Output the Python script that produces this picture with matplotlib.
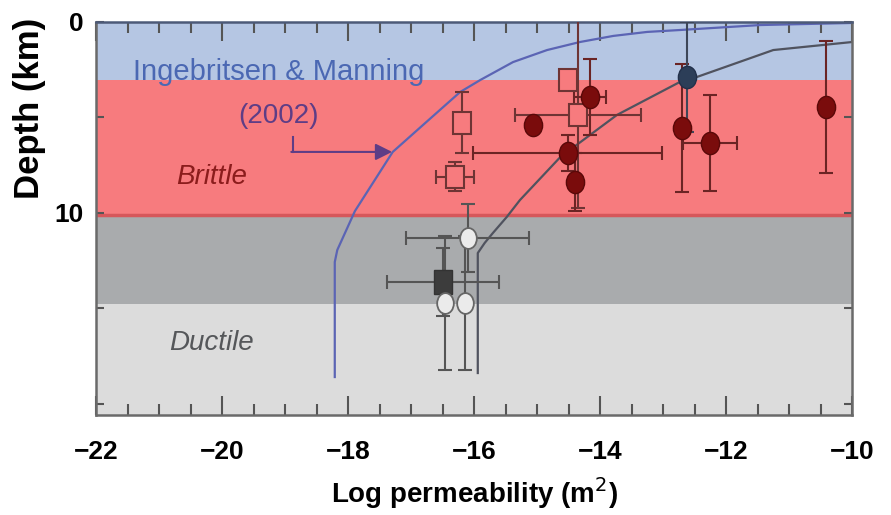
import matplotlib
matplotlib.use("Agg")
import matplotlib.pyplot as plt
from matplotlib.markers import MarkerStyle
from matplotlib.transforms import Affine2D

plt.rcParams["font.family"] = ["Liberation Sans", "DejaVu Sans"]

# depth bands (km)
band_edges = [0, 3.04, 10.1, 14.8, 20.6]
band_colors = ["#b5c6e3", "#f77b7e", "#a9abad", "#dcdcdc"]

# Ingebritsen & Manning (2002) curve: log k vs depth
im_k = [-18.21, -18.21, -18.17, -17.89, -17.29, -16.81, -16.22, -15.90, -15.38,
        -14.84, -14.32, -13.79, -13.25, -12.73, -11.46, -10.00]
im_z = [18.61, 12.58, 11.95, 9.91, 6.81, 5.40, 3.67, 3.04, 2.10,
        1.47, 1.05, 0.73, 0.52, 0.42, 0.16, 0.05]

# second curve
c2_k = [-15.94, -15.94, -15.83, -15.70, -15.48, -15.27, -14.63, -13.73,
        -12.73, -12.46, -11.25, -10.00]
c2_z = [18.40, 12.11, 11.58, 11.06, 10.22, 9.33, 7.08, 4.87,
        3.14, 2.88, 1.47, 1.05]

# filled circles (brittle crust)
brittle_k = [-15.06, -14.16, -14.51, -14.40, -12.70, -12.25, -10.41]
brittle_z = [5.40, 3.93, 6.87, 8.39, 5.56, 6.34, 4.45]
brittle_kerr = [0, 0.26, 1.5, 0, 0, 0.43, 0]
brittle_zerr = [0, 2.0, 0.95, 1.5, 3.35, 2.5, 3.46]

# dark blue circle
navy_k = [-12.62]
navy_z = [2.88]
navy_zerr = [2.88]

# open squares
sq_k = [-16.19, -16.30, -14.35, -14.51]
sq_z = [5.29, 8.12, 4.87, 3.04]
sq_kerr = [0, 0.30, 1.0, 0]
sq_zerr = [1.6, 0.76, 4.9, 0]

# dark square (ductile)
dsq_k = [-16.49]
dsq_z = [13.63]
dsq_kerr = [0.89]
dsq_zerr = [1.8]

# white circles (ductile)
wc_k = [-16.10, -16.46, -16.14]
wc_z = [11.32, 14.73, 14.73]
wc_kerr = [0.98, 0, 0]
wc_zerr = [1.8, 3.5, 3.5]


def band_color(z):
    for i in range(len(band_colors)):
        if band_edges[i] <= z < band_edges[i+1]:
            return band_colors[i]
    return band_colors[-1]


fig = plt.figure(figsize=(8.91, 5.15), dpi=100)
ax = fig.add_axes([96/891, 1-415/515, (852-96)/891, (415-22)/515])

for i in range(len(band_colors)):
    ax.axhspan(band_edges[i], band_edges[i+1], color=band_colors[i], lw=0, zorder=0)
ax.axhline(band_edges[2], color="#d6575b", lw=2.5, zorder=0.5)

ax.plot(im_k, im_z, color="#5b64b4", lw=1.6, zorder=2)
ax.plot(c2_k, c2_z, color="#50535f", lw=1.6, zorder=2)

ell = MarkerStyle("o", transform=Affine2D().scale(0.82, 1.0))
rect = MarkerStyle("s", transform=Affine2D().scale(0.8, 1.0))

ax.errorbar(sq_k, sq_z, xerr=sq_kerr, yerr=sq_zerr, fmt="none", ecolor="#6e3434",
            elinewidth=1.5, capsize=5, capthick=1.5, zorder=3)
for k, z in zip(sq_k, sq_z):
    ax.plot(k, z, ls="none", marker=rect, ms=16, mfc=band_color(z), mec="#6e3434",
            mew=1.5, zorder=4)

ax.errorbar(brittle_k, brittle_z, xerr=brittle_kerr, yerr=brittle_zerr, fmt="none",
            ecolor="#6b2424", elinewidth=1.5, capsize=5, capthick=1.5, zorder=3)
ax.plot(brittle_k, brittle_z, ls="none", marker=ell, ms=16, mfc="#7a0c0c", mec="#5a0808", zorder=4)

ax.errorbar(navy_k, navy_z, yerr=navy_zerr, fmt="none", ecolor="#3d4658",
            elinewidth=1.5, capsize=5, capthick=1.5, zorder=3)
ax.plot(navy_k, navy_z, ls="none", marker=ell, ms=16, mfc="#2c3e58", mec="#22304a", zorder=4)

ax.errorbar(wc_k, wc_z, xerr=wc_kerr, yerr=wc_zerr, fmt="none", ecolor="#555555",
            elinewidth=1.5, capsize=5, capthick=1.5, zorder=3)
ax.errorbar(dsq_k, dsq_z, xerr=dsq_kerr, yerr=dsq_zerr, fmt="none", ecolor="#555555",
            elinewidth=1.5, capsize=5, capthick=1.5, zorder=3)
ax.plot(dsq_k, dsq_z, ls="none", marker=rect, ms=17, mfc="#3c3c3c", mec="#333333", zorder=4)
ax.plot(wc_k, wc_z, ls="none", marker=MarkerStyle("o", transform=Affine2D().scale(0.8, 1.0)),
        ms=15, mfc="#ebebeb", mec="#666666", mew=1.3, zorder=4)

# text labels
ax.text(-19.10, 3.04, "Ingebritsen & Manning", color="#4b68b3", fontsize=21,
        ha="center", va="baseline", zorder=5)
ax.text(-19.11, 5.29, "(2002)", color="#5e3d86", fontsize=20,
        ha="center", va="baseline", zorder=5)
ax.plot([-18.87, -18.87], [6.03, 6.81], color="#5e3d86", lw=1.5, zorder=5)
ax.annotate("", xy=(-17.3, 6.81), xytext=(-18.9, 6.81),
            arrowprops=dict(arrowstyle="-|>", color="#5e3d86", lw=1.5, mutation_scale=25,
                            shrinkA=0, shrinkB=0), zorder=5)
ax.text(-20.17, 8.49, "Brittle", color="#8b1c1c", fontsize=20, style="italic",
        ha="center", va="baseline", zorder=5)
ax.text(-20.16, 17.2, "Ductile", color="#55575a", fontsize=20, style="italic",
        ha="center", va="baseline", zorder=5)

ax.set_xlim(-22, -10)
ax.set_ylim(20.6, 0)
ax.set_xticks([-22, -20, -18, -16, -14, -12, -10])
ax.set_xticklabels(["\u221222", "\u221220", "\u221218", "\u221216", "\u221214", "\u221212", "\u221210"],
                   fontsize=19, fontweight="bold")
ax.set_xticks([-22 + 0.5*i for i in range(25)], minor=True)
ax.set_yticks([0, 5, 10, 15, 20])
ax.set_yticklabels(["0", "", "10", "", ""], fontsize=19, fontweight="bold")
ax.tick_params(axis="x", which="major", direction="in", length=14, width=1.5, color="#555555",
               top=True, pad=18)
ax.tick_params(axis="x", which="minor", direction="in", length=8, width=1.5, color="#555555", top=True)
ax.tick_params(axis="y", which="major", direction="in", length=6, width=1.5, color="#555555",
               right=True, pad=9)
for s in ax.spines.values():
    s.set_color("#6a6a6a")
    s.set_linewidth(1.8)
ax.spines["top"].set_color("#4c5a78")

ax.set_xlabel("Log permeability (m$^2$)", fontsize=20, fontweight="bold", labelpad=8)
fig.text(30/891, 1-108/515, "Depth (km)", rotation=90, fontsize=25, fontweight="bold",
         ha="center", va="center")

fig.savefig("out.png", dpi=100)
